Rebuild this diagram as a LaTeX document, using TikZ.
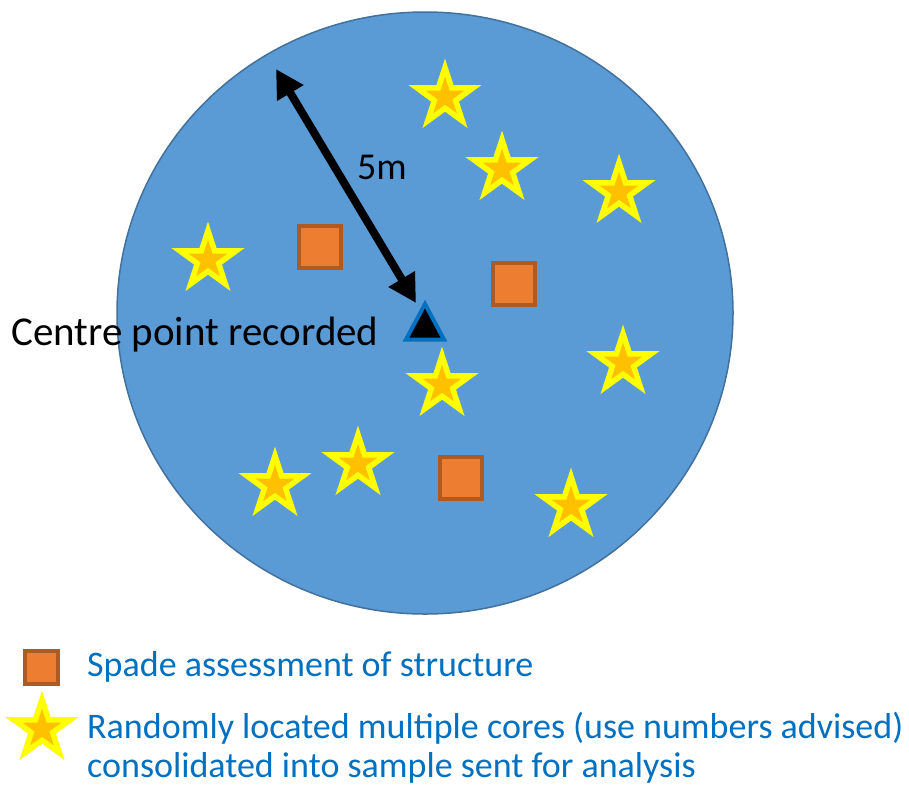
\documentclass[tikz,border=0pt]{standalone}
\usepackage{fontspec}
\setmainfont{Carlito}
\usetikzlibrary{shapes.geometric,arrows.meta}
\definecolor{plotfill}{HTML}{5B9BD5}
\definecolor{plotedge}{HTML}{41719C}
\definecolor{starfill}{HTML}{FFC000}
\definecolor{staredge}{HTML}{FFFF00}
\definecolor{sqfill}{HTML}{ED7D31}
\definecolor{sqedge}{HTML}{AE5A21}
\definecolor{legblue}{HTML}{0070C0}
\tikzset{
  core/.style={star, star points=5, star point ratio=2.618, minimum size=59pt,
    inner sep=0pt, outer sep=0pt, fill=starfill, draw=staredge, line width=5.5pt, line join=miter},
  spade/.style={rectangle, minimum size=42pt, inner sep=0pt, fill=sqfill, draw=sqedge, line width=4pt},
  plotcircle/.style={ellipse, minimum width=616pt, minimum height=602pt, inner sep=0pt,
    fill=plotfill, draw=plotedge, line width=1.5pt},
  blacktext/.style={anchor=base west, inner sep=0pt, text=black},
  legtext/.style={anchor=base west, inner sep=0pt, text=legblue, font=\fontsize{36}{43}\selectfont},
  radius arrow/.style={line width=8pt, {Triangle[length=28pt,width=29pt]}-{Triangle[length=28pt,width=29pt]}},
}
\begin{document}
\begin{tikzpicture}[x=1pt,y=-1pt]
\useasboundingbox (0,0) rectangle (909,788);
% plot circle
\node[plotcircle] (plot) at (425,313) {};
% stars (cores)
\node[core] (s1) at (445,97) {};
\node[core] (s2) at (502,169) {};
\node[core] (s3) at (619,192) {};
\node[core] (s4) at (208,260) {};
\node[core] (s5) at (442,385) {};
\node[core] (s6) at (623,363) {};
\node[core] (s7) at (275,485) {};
\node[core] (s8) at (358,464) {};
\node[core] (s9) at (571,506) {};
% spade squares
\node[spade] (q1) at (319.5,246.5) {};
\node[spade] (q2) at (514,284) {};
\node[spade] (q3) at (461,478) {};
% centre triangle
\coordinate (centre) at (425,325);
\draw[fill=black, draw=legblue, line width=4pt, line join=miter]
  (425,304) -- (444,339.5) -- (406,339.5) -- cycle;
% radius arrow
\coordinate (atop) at (276,69);
\coordinate (abot) at (416,303);
\draw[radius arrow] (atop) -- (abot);
% labels
\node[blacktext, font=\fontsize{38}{46}\selectfont] (lab5m) at (357,179) {5m};
\node[blacktext, font=\fontsize{41}{49}\selectfont] (labcentre) at (11,345) {Centre point recorded};
% legend
\node[spade, minimum size=33pt] (legsq) at (41.5,667.5) {};
\node[core] (legstar) at (42,729) {};
\node[legtext] (leg1) at (87,676) {Spade assessment of structure};
\node[legtext] (leg2) at (87,738.5) {Randomly located multiple cores (use numbers advised)};
\node[legtext] (leg3) at (87,777) {consolidated into sample sent for analysis};
\end{tikzpicture}
\end{document}
